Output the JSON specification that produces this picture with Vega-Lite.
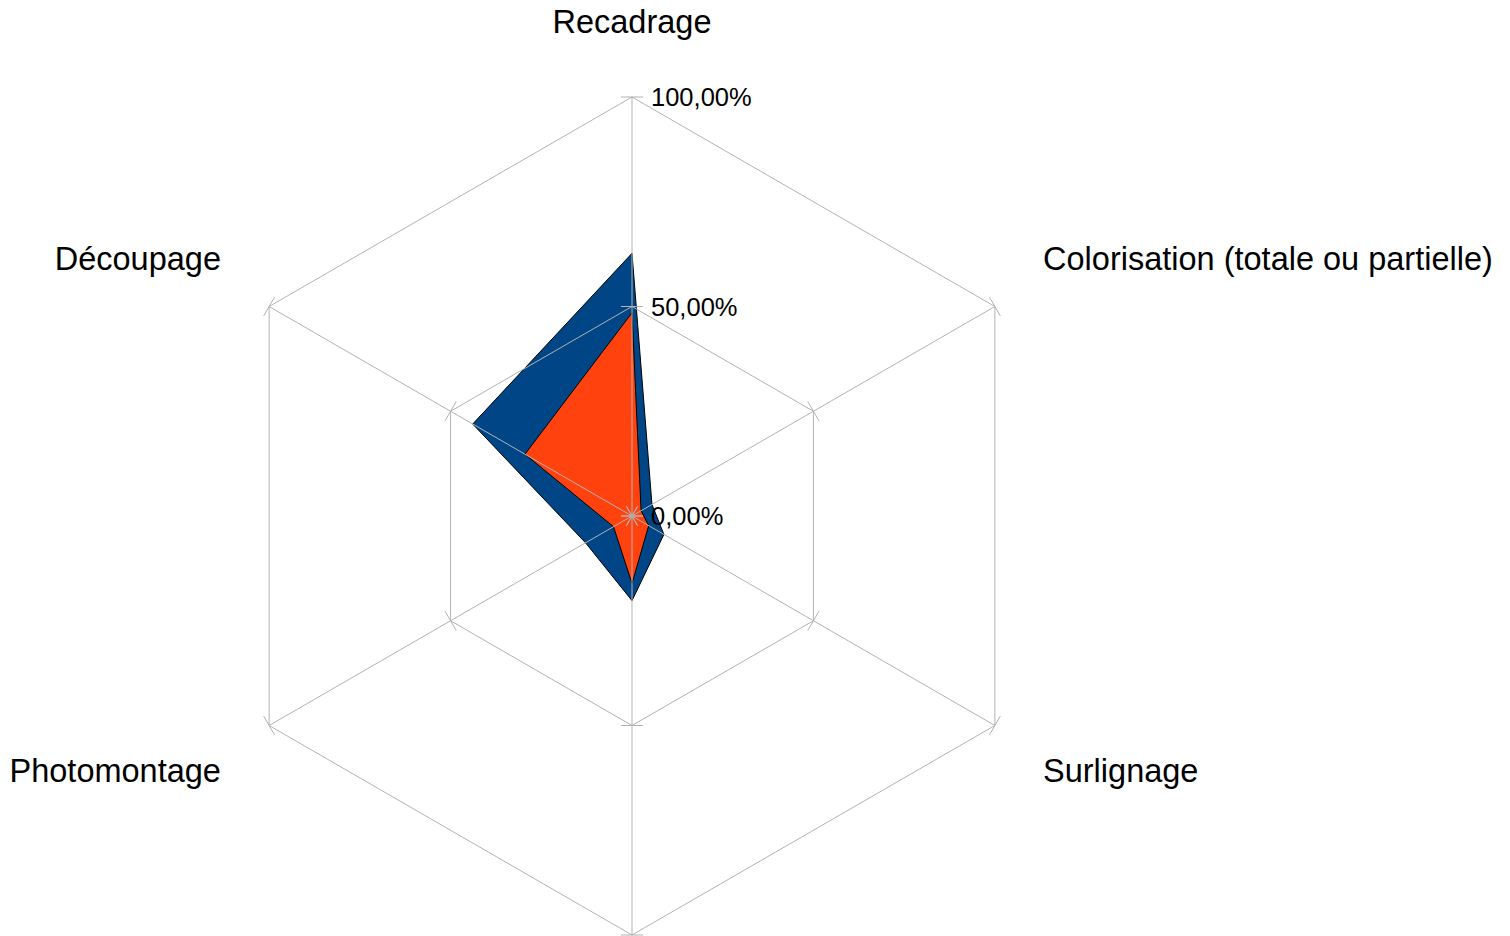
{
  "$schema": "https://vega.github.io/schema/vega-lite/v6.json",
  "width": 838,
  "height": 838,
  "autosize": {"type": "none"},
  "padding": {"left": 213, "top": 97, "right": 459, "bottom": 1},
  "background": "white",
  "config": {"view": {"stroke": null}, "font": "Liberation Sans"},
  "datasets": {
    "scores": [
      {"serie": "A", "axe": "Recadrage", "idx": 0, "value": 62.7},
      {"serie": "A", "axe": "Colorisation (totale ou partielle)", "idx": 1, "value": 5.5},
      {"serie": "A", "axe": "Surlignage", "idx": 2, "value": 8.8},
      {"serie": "A", "axe": "", "idx": 3, "value": 20.2},
      {"serie": "A", "axe": "Photomontage", "idx": 4, "value": 12.8},
      {"serie": "A", "axe": "Découpage", "idx": 5, "value": 43.9},
      {"serie": "B", "axe": "Recadrage", "idx": 0, "value": 48.5},
      {"serie": "B", "axe": "Colorisation (totale ou partielle)", "idx": 1, "value": 2.5},
      {"serie": "B", "axe": "Surlignage", "idx": 2, "value": 4.6},
      {"serie": "B", "axe": "", "idx": 3, "value": 16.1},
      {"serie": "B", "axe": "Photomontage", "idx": 4, "value": 5.1},
      {"serie": "B", "axe": "Découpage", "idx": 5, "value": 29.5}
    ],
    "axes": [
      {"axe": "Recadrage", "idx": 0},
      {"axe": "Colorisation (totale ou partielle)", "idx": 1},
      {"axe": "Surlignage", "idx": 2},
      {"axe": "", "idx": 3},
      {"axe": "Photomontage", "idx": 4},
      {"axe": "Découpage", "idx": 5}
    ],
    "levels": [
      {"idx": 0, "r": 0}, {"idx": 1, "r": 0}, {"idx": 2, "r": 0}, {"idx": 3, "r": 0}, {"idx": 4, "r": 0}, {"idx": 5, "r": 0},
      {"idx": 0, "r": 0.5}, {"idx": 1, "r": 0.5}, {"idx": 2, "r": 0.5}, {"idx": 3, "r": 0.5}, {"idx": 4, "r": 0.5}, {"idx": 5, "r": 0.5},
      {"idx": 0, "r": 1}, {"idx": 1, "r": 1}, {"idx": 2, "r": 1}, {"idx": 3, "r": 1}, {"idx": 4, "r": 1}, {"idx": 5, "r": 1}
    ],
    "ticklabels": [
      {"r": 0, "label": "0,00%"},
      {"r": 0.5, "label": "50,00%"},
      {"r": 1, "label": "100,00%"}
    ]
  },
  "layer": [
    {
      "data": {"name": "scores"},
      "transform": [
        {"filter": "datum.serie == 'A'"},
        {"calculate": "datum.idx * PI / 3", "as": "a"},
        {"calculate": "datum.value / 100 * sin(datum.a)", "as": "x"},
        {"calculate": "datum.value / 100 * cos(datum.a)", "as": "y"}
      ],
      "mark": {"type": "line", "interpolate": "linear-closed", "fill": "#004586", "stroke": "#000000", "strokeWidth": 1},
      "encoding": {
        "x": {"field": "x", "type": "quantitative", "scale": {"domain": [-1, 1], "nice": false, "zero": false}, "axis": null},
        "y": {"field": "y", "type": "quantitative", "scale": {"domain": [-1, 1], "nice": false, "zero": false}, "axis": null},
        "order": {"field": "idx"}
      }
    },
    {
      "data": {"name": "scores"},
      "transform": [
        {"filter": "datum.serie == 'B'"},
        {"calculate": "datum.idx * PI / 3", "as": "a"},
        {"calculate": "datum.value / 100 * sin(datum.a)", "as": "x"},
        {"calculate": "datum.value / 100 * cos(datum.a)", "as": "y"}
      ],
      "mark": {"type": "line", "interpolate": "linear-closed", "fill": "#ff420e", "stroke": "#000000", "strokeWidth": 1},
      "encoding": {
        "x": {"field": "x", "type": "quantitative"},
        "y": {"field": "y", "type": "quantitative"},
        "order": {"field": "idx"}
      }
    },
    {
      "data": {"name": "levels"},
      "transform": [
        {"filter": "datum.r > 0"},
        {"calculate": "datum.idx * PI / 3", "as": "a"},
        {"calculate": "datum.r * sin(datum.a)", "as": "x"},
        {"calculate": "datum.r * cos(datum.a)", "as": "y"}
      ],
      "mark": {"type": "line", "interpolate": "linear-closed", "stroke": "#b3b3b3", "strokeWidth": 1},
      "encoding": {
        "x": {"field": "x", "type": "quantitative"},
        "y": {"field": "y", "type": "quantitative"},
        "detail": {"field": "r"},
        "order": {"field": "idx"}
      }
    },
    {
      "data": {"name": "axes"},
      "transform": [
        {"calculate": "datum.idx * PI / 3", "as": "a"},
        {"calculate": "0", "as": "x"},
        {"calculate": "0", "as": "y"},
        {"calculate": "sin(datum.a)", "as": "x2"},
        {"calculate": "cos(datum.a)", "as": "y2"}
      ],
      "mark": {"type": "rule", "stroke": "#b3b3b3", "strokeWidth": 1},
      "encoding": {
        "x": {"field": "x", "type": "quantitative"},
        "y": {"field": "y", "type": "quantitative"},
        "x2": {"field": "x2"},
        "y2": {"field": "y2"}
      }
    },
    {
      "data": {"name": "levels"},
      "transform": [
        {"calculate": "datum.idx * PI / 3", "as": "a"},
        {"calculate": "datum.r * sin(datum.a) - 0.0263 * cos(datum.a)", "as": "x"},
        {"calculate": "datum.r * cos(datum.a) + 0.0263 * sin(datum.a)", "as": "y"},
        {"calculate": "datum.r * sin(datum.a) + 0.0263 * cos(datum.a)", "as": "x2"},
        {"calculate": "datum.r * cos(datum.a) - 0.0263 * sin(datum.a)", "as": "y2"}
      ],
      "mark": {"type": "rule", "stroke": "#b3b3b3", "strokeWidth": 1},
      "encoding": {
        "x": {"field": "x", "type": "quantitative"},
        "y": {"field": "y", "type": "quantitative"},
        "x2": {"field": "x2"},
        "y2": {"field": "y2"}
      }
    },
    {
      "data": {"name": "ticklabels"},
      "transform": [
        {"calculate": "0", "as": "x"},
        {"calculate": "datum.r", "as": "y"}
      ],
      "mark": {"type": "text", "align": "left", "baseline": "middle", "dx": 19, "dy": 1, "fontSize": 25.5, "color": "#000000"},
      "encoding": {
        "x": {"field": "x", "type": "quantitative"},
        "y": {"field": "y", "type": "quantitative"},
        "text": {"field": "label"}
      }
    },
    {
      "data": {"name": "axes"},
      "transform": [
        {"filter": "datum.idx == 0"},
        {"calculate": "0", "as": "x"},
        {"calculate": "1.152", "as": "y"}
      ],
      "mark": {"type": "text", "align": "center", "baseline": "alphabetic", "fontSize": 32.5, "color": "#000000"},
      "encoding": {
        "x": {"field": "x", "type": "quantitative"},
        "y": {"field": "y", "type": "quantitative"},
        "text": {"field": "axe"}
      }
    },
    {
      "data": {"name": "axes"},
      "transform": [
        {"filter": "datum.idx == 1 || datum.idx == 2"},
        {"calculate": "0.981", "as": "x"},
        {"calculate": "datum.idx == 1 ? 0.587 : -0.635", "as": "y"}
      ],
      "mark": {"type": "text", "align": "left", "baseline": "alphabetic", "fontSize": 32.5, "color": "#000000"},
      "encoding": {
        "x": {"field": "x", "type": "quantitative"},
        "y": {"field": "y", "type": "quantitative"},
        "text": {"field": "axe"}
      }
    },
    {
      "data": {"name": "axes"},
      "transform": [
        {"filter": "datum.idx == 4 || datum.idx == 5"},
        {"calculate": "-0.981", "as": "x"},
        {"calculate": "datum.idx == 5 ? 0.587 : -0.635", "as": "y"}
      ],
      "mark": {"type": "text", "align": "right", "baseline": "alphabetic", "fontSize": 32.5, "color": "#000000"},
      "encoding": {
        "x": {"field": "x", "type": "quantitative"},
        "y": {"field": "y", "type": "quantitative"},
        "text": {"field": "axe"}
      }
    }
  ]
}
